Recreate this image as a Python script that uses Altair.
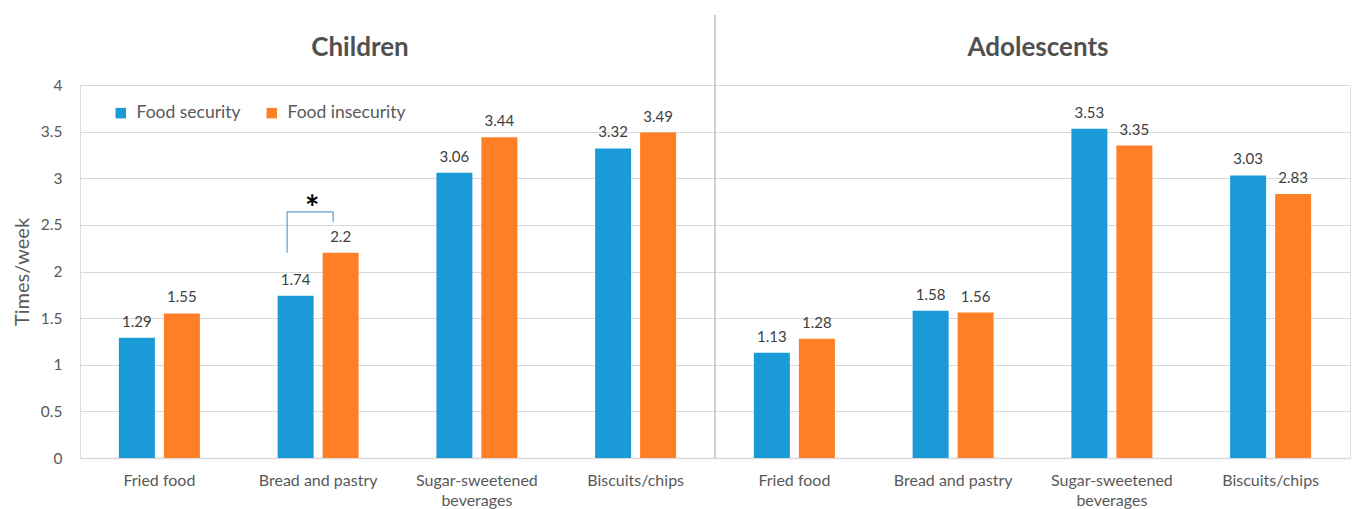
import altair as alt
import pandas as pd

groups = ["Children", "Adolescents"]
foods = ["Fried food", "Bread and pastry", "Sugar-sweetened beverages", "Biscuits/chips"]
series = ["Food security", "Food insecurity"]
colors = ["#1a9bd7", "#ff7f27"]

children_security = [1.29, 1.74, 3.06, 3.32]
children_insecurity = [1.55, 2.2, 3.44, 3.49]
adolescents_security = [1.13, 1.58, 3.53, 3.03]
adolescents_insecurity = [1.28, 1.56, 3.35, 2.83]

values = {
    ("Children", "Food security"): children_security,
    ("Children", "Food insecurity"): children_insecurity,
    ("Adolescents", "Food security"): adolescents_security,
    ("Adolescents", "Food insecurity"): adolescents_insecurity,
}

keys = [f"{g}|{f}" for g in groups for f in foods]
rows = []
for g in groups:
    for s in series:
        for f, v in zip(foods, values[(g, s)]):
            rows.append({"key": f"{g}|{f}", "series": s, "value": v})
df = pd.DataFrame(rows)

FONT = "Lato"
GREY = "#595959"

label_expr = ("split(datum.value, '|')[1] == 'Sugar-sweetened beverages' ? "
              "['Sugar-sweetened', 'beverages'] : split(datum.value, '|')[1]")

x_enc = alt.X("key:N", sort=keys,
              scale=alt.Scale(paddingInner=0, paddingOuter=0),
              axis=alt.Axis(title=None, labelExpr=label_expr, labelAngle=0,
                            labelFontSize=16, labelColor=GREY, labelPadding=14,
                            labelLimit=0, ticks=False, domainColor="#d9d9d9",
                            domainWidth=1.5, labelLineHeight=20, labelFont=FONT))
xoff_enc = alt.XOffset("series:N", sort=series,
                       scale=alt.Scale(paddingInner=0.2, paddingOuter=0.864))
y_enc = alt.Y("value:Q",
              scale=alt.Scale(domain=[0, 4], nice=False),
              axis=alt.Axis(title="Times/week", values=[0, 0.5, 1, 1.5, 2, 2.5, 3, 3.5, 4],
                            format="~g",
                            labelFontSize=15.5, labelColor=GREY, labelPadding=18,
                            titleFontSize=20, titleColor=GREY, titleFontWeight="normal",
                            titlePadding=8, domain=False, ticks=False,
                            gridColor="#d9d9d9", gridWidth=1, labelFont=FONT, titleFont=FONT))

bars = alt.Chart(df).mark_bar().encode(
    x=x_enc, xOffset=xoff_enc, y=y_enc,
    color=alt.Color("series:N", sort=series,
                    scale=alt.Scale(domain=series, range=colors),
                    legend=alt.Legend(title=None, orient="none", legendX=32, legendY=19,
                                      direction="horizontal", symbolType="square",
                                      symbolSize=110, symbolStrokeWidth=0,
                                      labelFontSize=17.5, labelColor=GREY, labelFont=FONT,
                                      labelOffset=7, columnPadding=22)),
)

labels = alt.Chart(df).mark_text(dy=-11, baseline="alphabetic", fontSize=15,
                                 color="#404040", font=FONT).encode(
    x=alt.X("key:N", sort=keys), xOffset=alt.XOffset("series:N", sort=series),
    y="value:Q", text=alt.Text("value:Q"),
)

sep = alt.Chart(pd.DataFrame({"a": [0]})).mark_rule(color="#bfbfbf", strokeWidth=1.5).encode(
    x=alt.value(635), y=alt.value(-70), y2=alt.value(373))

titles_df = pd.DataFrame({"t": groups, "px": [280, 958]})
titles = alt.Chart(titles_df).mark_text(fontSize=26, fontWeight="bold", color="#505050",
                                        baseline="alphabetic", font=FONT).encode(
    x=alt.X("px:Q", scale=None), y=alt.value(-29), text="t:N")

# significance bracket (Children, Bread and pastry)
sig_key = "Children|Bread and pastry"
left_leg = pd.DataFrame({"key": [sig_key], "y": [2.2], "y2": [2.64]})
right_leg = pd.DataFrame({"key": [sig_key], "y": [2.53], "y2": [2.64]})
top_bar = pd.DataFrame({"key": [sig_key], "y": [2.64]})
bcol = "#5b9bd5"
l1 = alt.Chart(left_leg).mark_rule(color=bcol, strokeWidth=1.2, xOffset=-31).encode(
    x=alt.X("key:N", sort=keys), y="y:Q", y2="y2:Q")
l2 = alt.Chart(right_leg).mark_rule(color=bcol, strokeWidth=1.2, xOffset=15).encode(
    x=alt.X("key:N", sort=keys), y="y:Q", y2="y2:Q")
l3 = alt.Chart(top_bar).mark_rule(color=bcol, strokeWidth=1.2, xOffset=-31, x2Offset=15).encode(
    x=alt.X("key:N", sort=keys), x2="key:N", y="y:Q")
star = alt.Chart(pd.DataFrame({"key": [sig_key], "y": [2.66], "t": ["*"]})).mark_text(
    fontSize=34, fontWeight="bold", color="#000000", xOffset=-6, font=FONT).encode(
    x=alt.X("key:N", sort=keys), y="y:Q", text="t:N")

chart = alt.layer(bars, labels, l1, l2, l3, star, sep, titles).properties(
    width=1270, height=373,
    autosize=alt.AutoSizeParams(type="none"),
    padding={"left": 80, "top": 85, "right": 2, "bottom": 51},
).configure_view(stroke=None).configure(font=FONT)

chart.save("out.html", embed_options={"renderer": "svg", "actions": False})
